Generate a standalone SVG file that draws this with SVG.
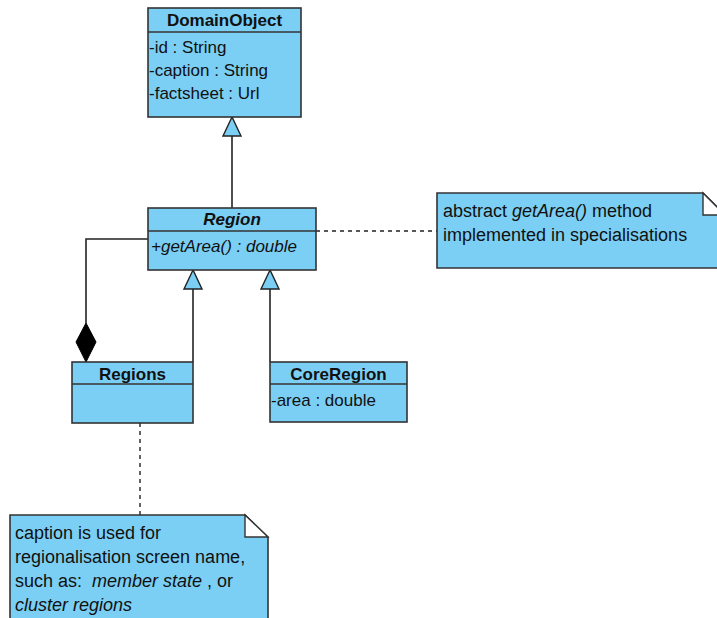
<svg xmlns="http://www.w3.org/2000/svg" width="717" height="618" viewBox="0 0 717 618">
  <style>
    .box { fill: #7BCFF4; stroke: #333333; stroke-width: 1.6; }
    .sep { stroke: #333333; stroke-width: 1.4; }
    .line { fill: none; stroke: #222222; stroke-width: 1.6; }
    .dash { fill: none; stroke: #222222; stroke-width: 1.4; stroke-dasharray: 4 4; }
    .fold { fill: #FFFFFF; stroke: #333333; stroke-width: 1.4; }
    text { font-family: "Liberation Sans", Arial, sans-serif; font-size: 17px; fill: #111111; }
    .note { font-size: 18px; }
    .title { font-weight: bold; text-anchor: middle; }
    .it { font-style: italic; }
  </style>

  <!-- connectors -->
  <g id="connectors">
    <!-- Region generalizes DomainObject -->
    <line class="line" x1="232" y1="208" x2="232" y2="136"/>
    <path d="M232,117 L223,136 L241,136 Z" fill="#7BCFF4" stroke="#222222" stroke-width="1.4"/>
    <!-- Regions generalizes Region -->
    <line class="line" x1="193" y1="362" x2="193" y2="289"/>
    <path d="M193,270 L184,289 L202,289 Z" fill="#7BCFF4" stroke="#222222" stroke-width="1.4"/>
    <!-- CoreRegion generalizes Region -->
    <line class="line" x1="270" y1="362" x2="270" y2="289"/>
    <path d="M270,270 L261,289 L279,289 Z" fill="#7BCFF4" stroke="#222222" stroke-width="1.4"/>
    <!-- composition Regions owns Region -->
    <path class="line" d="M148,239 L86,239 L86,323"/>
    <path d="M86,323 L96,342 L86,362 L76,342 Z" fill="#000000" stroke="#000000" stroke-width="1"/>
    <!-- note anchors -->
    <line class="dash" x1="316" y1="231" x2="437" y2="231"/>
    <line class="dash" x1="140" y1="423" x2="140" y2="515"/>
  </g>

  <!-- DomainObject -->
  <g id="DomainObject">
    <rect class="box" x="148" y="8" width="153" height="109"/>
    <line class="sep" x1="148" y1="32" x2="301" y2="32"/>
    <text class="title" x="224.5" y="26">DomainObject</text>
    <text x="149" y="53">-id : String</text>
    <text x="149" y="76">-caption : String</text>
    <text x="149" y="99">-factsheet : Url</text>
  </g>

  <!-- Region -->
  <g id="Region">
    <rect class="box" x="148" y="208" width="168" height="62"/>
    <line class="sep" x1="148" y1="231" x2="316" y2="231"/>
    <text class="title it" x="232" y="225">Region</text>
    <text class="it" x="151" y="252">+getArea() : double</text>
  </g>

  <!-- Regions -->
  <g id="Regions">
    <rect class="box" x="72" y="362" width="121" height="61"/>
    <line class="sep" x1="72" y1="384" x2="193" y2="384"/>
    <text class="title" x="132.5" y="380">Regions</text>
  </g>

  <!-- CoreRegion -->
  <g id="CoreRegion">
    <rect class="box" x="270" y="362" width="137" height="60"/>
    <line class="sep" x1="270" y1="384" x2="407" y2="384"/>
    <text class="title" x="338.5" y="380">CoreRegion</text>
    <text x="271" y="406">-area : double</text>
  </g>

  <!-- note on getArea -->
  <g id="note-getArea">
    <path class="box" d="M437,193 L703,193 L725,215 L725,268 L437,268 Z"/>
    <path class="fold" d="M703,193 L703,215 L725,215 Z"/>
    <text class="note" x="443" y="217">abstract <tspan class="it">getArea()</tspan> method</text>
    <text class="note" x="443" y="241">implemented in specialisations</text>
  </g>

  <!-- note on caption -->
  <g id="note-caption">
    <path class="box" d="M10,515 L245,515 L268,537 L268,625 L10,625 Z"/>
    <path class="fold" d="M245,515 L245,537 L268,537 Z"/>
    <text class="note" x="15" y="539">caption is used for</text>
    <text class="note" x="15" y="563">regionalisation screen name,</text>
    <text class="note" x="15" y="587">such as: <tspan class="it" dx="5">member state</tspan> , or</text>
    <text class="note it" x="15" y="611">cluster regions</text>
  </g>
</svg>
